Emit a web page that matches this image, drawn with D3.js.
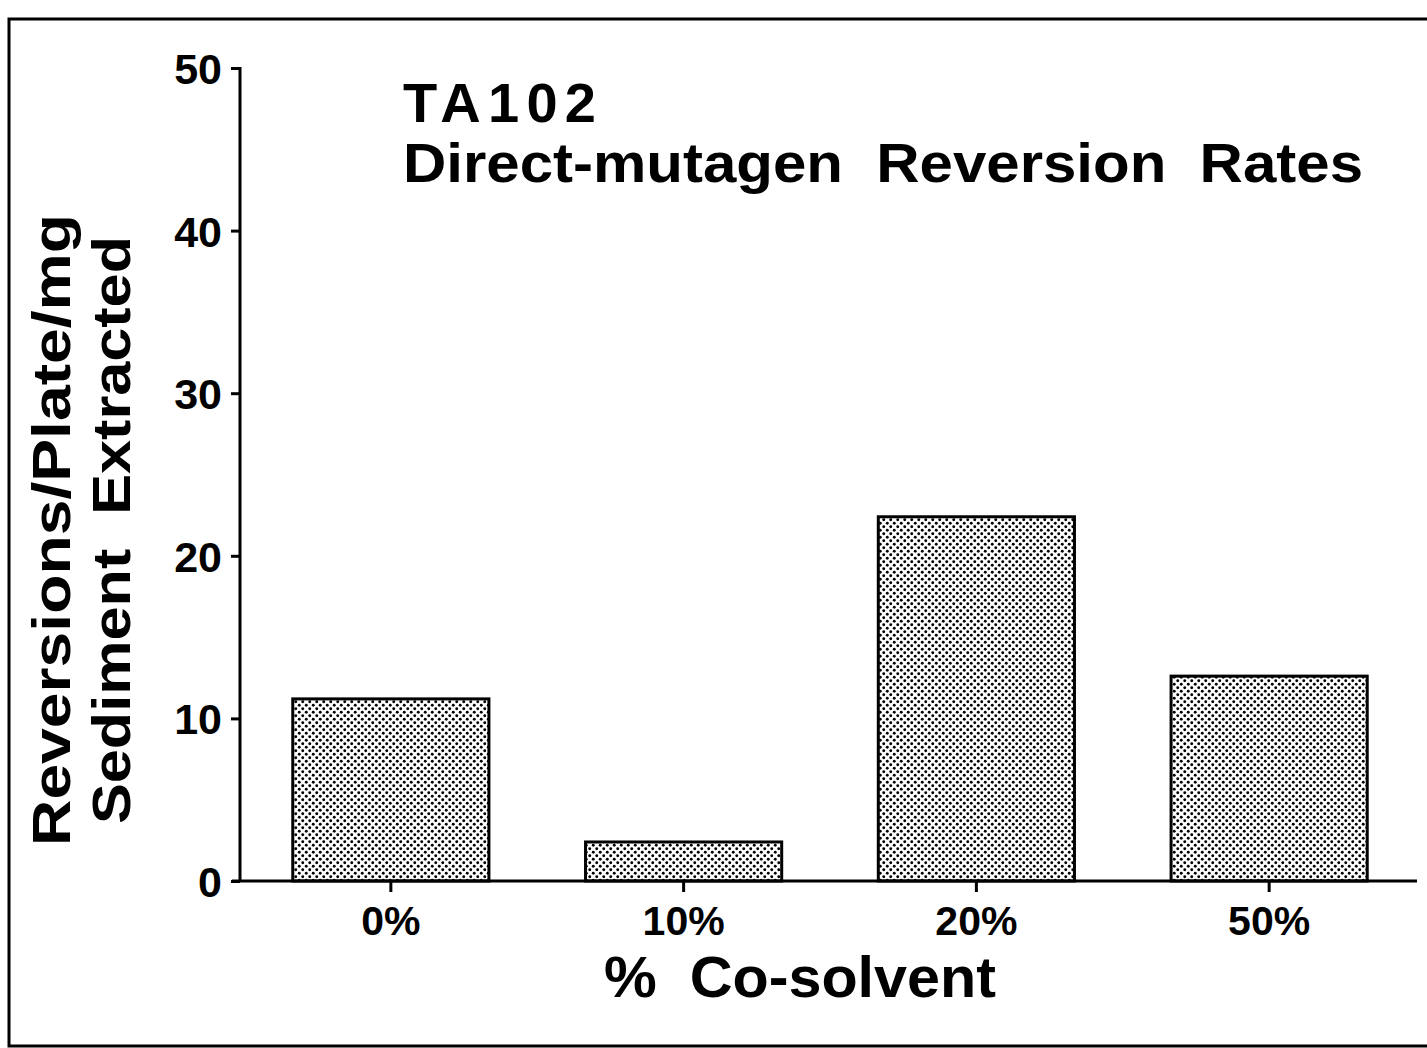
<!DOCTYPE html>
<html>
<head>
<meta charset="utf-8">
<script src="https://cdn.jsdelivr.net/npm/d3@7"></script>
<style>
  body { margin: 0; background: #fff; }
  svg text { font-family: "Liberation Sans", Arial, sans-serif; font-weight: bold; fill: #000; white-space: pre; }
</style>
</head>
<body>
<svg id="chart" width="1427" height="1048"></svg>
<script>
// data
var categories = ['0%', '10%', '20%', '50%'];
var values = [11.2, 2.4, 22.4, 12.6];
var yTicks = [0, 10, 20, 30, 40, 50];

var svg = d3.select('#chart');

// frame around the figure
svg.append('path')
    .attr('d', 'M1427,19 L9,19 L9,1046 L1427,1046')
    .attr('fill', 'none')
    .attr('stroke', '#000')
    .attr('stroke-width', 3);

// stipple fill for bars
var defs = svg.append('defs');
var pat = defs.append('pattern')
    .attr('id', 'dots')
    .attr('patternUnits', 'userSpaceOnUse')
    .attr('width', 7)
    .attr('height', 7);
pat.append('rect').attr('width', 7).attr('height', 7).attr('fill', '#fff');
pat.append('circle').attr('cx', 1.75).attr('cy', 1.75).attr('r', 1.45).attr('fill', '#000');
pat.append('circle').attr('cx', 5.25).attr('cy', 5.25).attr('r', 1.45).attr('fill', '#000');

var x = d3.scaleBand()
    .domain(categories)
    .range([243, 1417])
    .paddingInner(0.33)
    .paddingOuter(0.17);

var y = d3.scaleLinear()
    .domain([0, 50])
    .range([881, 68]);

// bars
svg.selectAll('rect.bar')
    .data(values)
    .enter()
    .append('rect')
    .attr('class', 'bar')
    .attr('x', function(d, i){ return x(categories[i]); })
    .attr('y', function(d){ return y(d); })
    .attr('width', x.bandwidth())
    .attr('height', function(d){ return y(0) - y(d); })
    .attr('fill', 'url(#dots)')
    .attr('stroke', '#000')
    .attr('stroke-width', 3);

// y axis
var yAxis = d3.axisLeft(y).tickValues(yTicks).tickSize(9).tickPadding(9);
var gy = svg.append('g')
    .attr('transform', 'translate(240,0)')
    .call(yAxis);
gy.select('.domain').attr('stroke-width', 3).attr('d', 'M-9,68.5H0V881');
gy.selectAll('.tick line').attr('stroke-width', 3);
gy.selectAll('.tick text').style('font-size', '43px').attr('dy', '0.36em');

// x axis
var xAxis = d3.axisBottom(x).tickSize(11).tickPadding(8);
var gx = svg.append('g')
    .attr('transform', 'translate(0,881)')
    .call(xAxis);
gx.select('.domain').attr('stroke-width', 3).attr('d', 'M232,0H1417');
gx.selectAll('.tick line').attr('stroke-width', 3);
gx.selectAll('.tick text').style('font-size', '41px').attr('dy', '0.85em');

// title
svg.append('text')
    .attr('x', 403)
    .attr('y', 122)
    .attr('textLength', 193)
    .attr('lengthAdjust', 'spacing')
    .style('font-size', '56px')
    .text('TA102');
svg.append('text')
    .attr('x', 403)
    .attr('y', 182)
    .attr('textLength', 960)
    .attr('lengthAdjust', 'spacingAndGlyphs')
    .style('font-size', '56px')
    .text('Direct-mutagen  Reversion  Rates');

// x axis title
svg.append('text')
    .attr('x', 800)
    .attr('y', 997)
    .attr('text-anchor', 'middle')
    .attr('textLength', 392)
    .attr('lengthAdjust', 'spacingAndGlyphs')
    .style('font-size', '58px')
    .text('%  Co-solvent');

// y axis title (two lines)
svg.append('text')
    .attr('transform', 'translate(70,530) rotate(-90)')
    .attr('text-anchor', 'middle')
    .attr('textLength', 632)
    .attr('lengthAdjust', 'spacingAndGlyphs')
    .style('font-size', '53px')
    .text('Reversions/Plate/mg');
svg.append('text')
    .attr('transform', 'translate(130,530) rotate(-90)')
    .attr('text-anchor', 'middle')
    .attr('textLength', 588)
    .attr('lengthAdjust', 'spacingAndGlyphs')
    .style('font-size', '53px')
    .text('Sediment  Extracted');
</script>
</body>
</html>
